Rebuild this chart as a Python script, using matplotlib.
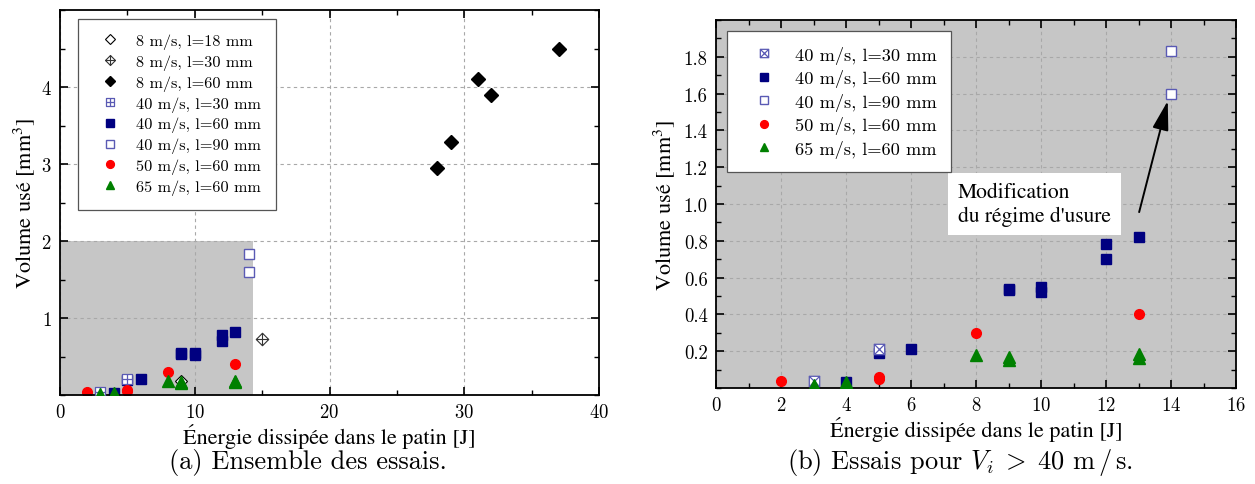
import matplotlib
matplotlib.use("Agg")
import matplotlib.pyplot as plt
from matplotlib.path import Path
from matplotlib.patches import Rectangle
from matplotlib.ticker import MultipleLocator

plt.rcParams['font.family'] = ['cmr10', 'DejaVu Serif']
plt.rcParams['mathtext.fontset'] = 'cm'
plt.rcParams['axes.formatter.use_mathtext'] = True

# ---- data (energie [J], volume [mm3]) ----
x_8_18 = [9]
y_8_18 = [0.18]
x_8_30 = [15]
y_8_30 = [0.73]
x_8_60 = [28, 29, 31, 32, 37]
y_8_60 = [2.95, 3.29, 4.10, 3.90, 4.50]
x_40_30 = [3, 5]
y_40_30 = [0.04, 0.21]
x_40_60 = [4, 5, 6, 9, 9, 10, 10, 12, 12, 13]
y_40_60 = [0.03, 0.19, 0.21, 0.53, 0.54, 0.52, 0.55, 0.78, 0.70, 0.82]
x_40_90 = [14, 14]
y_40_90 = [1.83, 1.60]
x_50_60 = [2, 3, 5, 5, 8, 13]
y_50_60 = [0.04, 0.01, 0.05, 0.06, 0.30, 0.40]
x_65_60 = [3, 4, 8, 9, 9, 13, 13]
y_65_60 = [0.015, 0.03, 0.18, 0.15, 0.17, 0.165, 0.185]

ylab = "Volume usé [mm$^3$]"
xlab = "Énergie dissipée dans le patin [J]"
# cmr10 has no accented glyphs -> accented labels in STIX
LABFONT = dict(family='STIXGeneral', math_fontfamily='stix')

# custom markers
sq_plus = Path([(-1, -1), (1, -1), (1, 1), (-1, 1), (-1, -1), (0, -1), (0, 1), (-1, 0), (1, 0)],
               [1, 2, 2, 2, 79, 1, 2, 1, 2])
sq_cross = Path([(-1, -1), (1, -1), (1, 1), (-1, 1), (-1, -1), (-1, -1), (1, 1), (-1, 1), (1, -1)],
                [1, 2, 2, 2, 79, 1, 2, 1, 2])
dia_plus = Path([(0, -1), (1, 0), (0, 1), (-1, 0), (0, -1), (0, -1), (0, 1), (-1, 0), (1, 0)],
                [1, 2, 2, 2, 79, 1, 2, 1, 2])

NAVY = '#000080'
LBLUE = '#5a5ab4'
RED = '#ff0000'
GREEN = '#008000'
GRAY = '#c6c6c6'

fig = plt.figure(figsize=(12.55, 4.85), dpi=100)
ax1 = fig.add_axes([60/1255, 1-396/485, 539/1255, 385/485])
ax2 = fig.add_axes([716/1255, 1-389/485, 520/1255, 368/485])

def style(ax):
    ax.set_axisbelow(True)
    ax.grid(True, which='major', ls=(0, (3, 3)), color='#a8a8a8', lw=0.8)
    ax.tick_params(which='both', direction='in', top=True, right=True, labelsize=13.5, pad=6)
    ax.tick_params(which='major', length=6, width=1.2)
    ax.tick_params(which='minor', length=3.5, width=1.0)
    for s in ax.spines.values():
        s.set_linewidth(1.3)

# ---- (a) ----
ax1.add_patch(Rectangle((0, 0), 14.3, 2, color=GRAY, zorder=0.2, lw=0))
ax1.plot(x_8_18, y_8_18, 'D', ms=6, mfc='white', mec='black', mew=0.8, ls='none', label='8 m/s, l=18 mm', zorder=3)
ax1.plot(x_8_30, y_8_30, marker=dia_plus, ms=9, mfc='white', mec='#333333', mew=0.8, ls='none', label='8 m/s, l=30 mm')
ax1.plot(x_8_60, y_8_60, 'D', ms=7, color='black', ls='none', label='8 m/s, l=60 mm')
ax1.plot(x_40_30, y_40_30, marker=sq_plus, ms=7.5, mfc='white', mec=LBLUE, mew=0.9, ls='none', label='40 m/s, l=30 mm', zorder=3)
ax1.plot(x_40_60, y_40_60, 's', ms=6.5, color=NAVY, ls='none', label='40 m/s, l=60 mm')
ax1.plot(x_40_90, y_40_90, 's', ms=6.5, mfc='white', mec=LBLUE, mew=1.0, ls='none', label='40 m/s, l=90 mm')
ax1.plot(x_50_60, y_50_60, 'o', ms=7, color=RED, ls='none', label='50 m/s, l=60 mm')
ax1.plot(x_65_60, y_65_60, '^', ms=8, color=GREEN, ls='none', label='65 m/s, l=60 mm', zorder=4)
ax1.set_xlim(0, 40)
ax1.set_ylim(0, 5)
ax1.xaxis.set_major_locator(MultipleLocator(10))
ax1.xaxis.set_minor_locator(MultipleLocator(5))
ax1.set_yticks([1, 2, 3, 4])
ax1.yaxis.set_minor_locator(MultipleLocator(0.5))
style(ax1)
ax1.set_xlabel(xlab, fontsize=16, labelpad=1, **LABFONT)
ax1.set_ylabel(ylab, fontsize=16, labelpad=3, **LABFONT)
leg1 = ax1.legend(loc='upper left', bbox_to_anchor=(0.033, 0.977), borderaxespad=0, fontsize=11.7,
                  handlelength=2.2, handletextpad=0.5, borderpad=0.9, labelspacing=0.33, markerscale=0.8,
                  fancybox=False, edgecolor='#555555', framealpha=1)
leg1.get_frame().set_linewidth(0.9)

# ---- (b) ----
ax2.set_facecolor(GRAY)
ax2.plot(x_40_30, y_40_30, marker=sq_cross, ms=7.5, mfc='white', mec=LBLUE, mew=0.9, ls='none', label='40 m/s, l=30 mm', zorder=3)
ax2.plot(x_40_60, y_40_60, 's', ms=6.5, color=NAVY, ls='none', label='40 m/s, l=60 mm')
ax2.plot(x_40_90, y_40_90, 's', ms=6.5, mfc='white', mec=LBLUE, mew=1.0, ls='none', label='40 m/s, l=90 mm')
ax2.plot(x_50_60, y_50_60, 'o', ms=7, color=RED, ls='none', label='50 m/s, l=60 mm')
ax2.plot(x_65_60, y_65_60, '^', ms=8, color=GREEN, ls='none', label='65 m/s, l=60 mm', zorder=4)
ax2.set_xlim(0, 16)
ax2.set_ylim(0, 2.0)
ax2.xaxis.set_major_locator(MultipleLocator(2))
ax2.xaxis.set_minor_locator(MultipleLocator(1))
ax2.set_yticks([0.2, 0.4, 0.6, 0.8, 1.0, 1.2, 1.4, 1.6, 1.8])
ax2.set_yticklabels(['0.2', '0.4', '0.6', '0.8', '1.0', '1.2', '1.4', '1.6', '1.8'])
ax2.yaxis.set_minor_locator(MultipleLocator(0.1))
style(ax2)
ax2.set_xlabel(xlab, fontsize=16, labelpad=1, **LABFONT)
ax2.set_ylabel(ylab, fontsize=16, labelpad=5, **LABFONT)
leg2 = ax2.legend(loc='upper left', bbox_to_anchor=(0.021, 0.970), borderaxespad=0, fontsize=13.2,
                  handlelength=2.4, handletextpad=0.5, borderpad=0.8, labelspacing=0.3, markerscale=0.8,
                  fancybox=False, edgecolor='#555555', framealpha=1)
leg2.get_frame().set_linewidth(0.9)

ax2.text(7.45, 1.0, "Modification\ndu régime d'usure", fontsize=15.5, ha='left', va='center',
         linespacing=1.2, bbox=dict(boxstyle='square,pad=0.45', fc='white', ec='none'), zorder=5, **LABFONT)
ax2.annotate('', xy=(13.9, 1.56), xytext=(13.02, 0.956),
             arrowprops=dict(arrowstyle='-|>,head_length=0.9,head_width=0.25', color='black',
                             lw=1.4, mutation_scale=20, shrinkA=0, shrinkB=0), zorder=6)

fig.text(308/1255, 1-463/485, "(a) Ensemble des essais.", fontsize=19, ha='center', va='center')
fig.text(960/1255, 1-463/485, r"(b) Essais pour $V_i\;>\;40$ m$\,/\,$s.", fontsize=19, ha='center', va='center')

fig.savefig('out.png', dpi=100)
